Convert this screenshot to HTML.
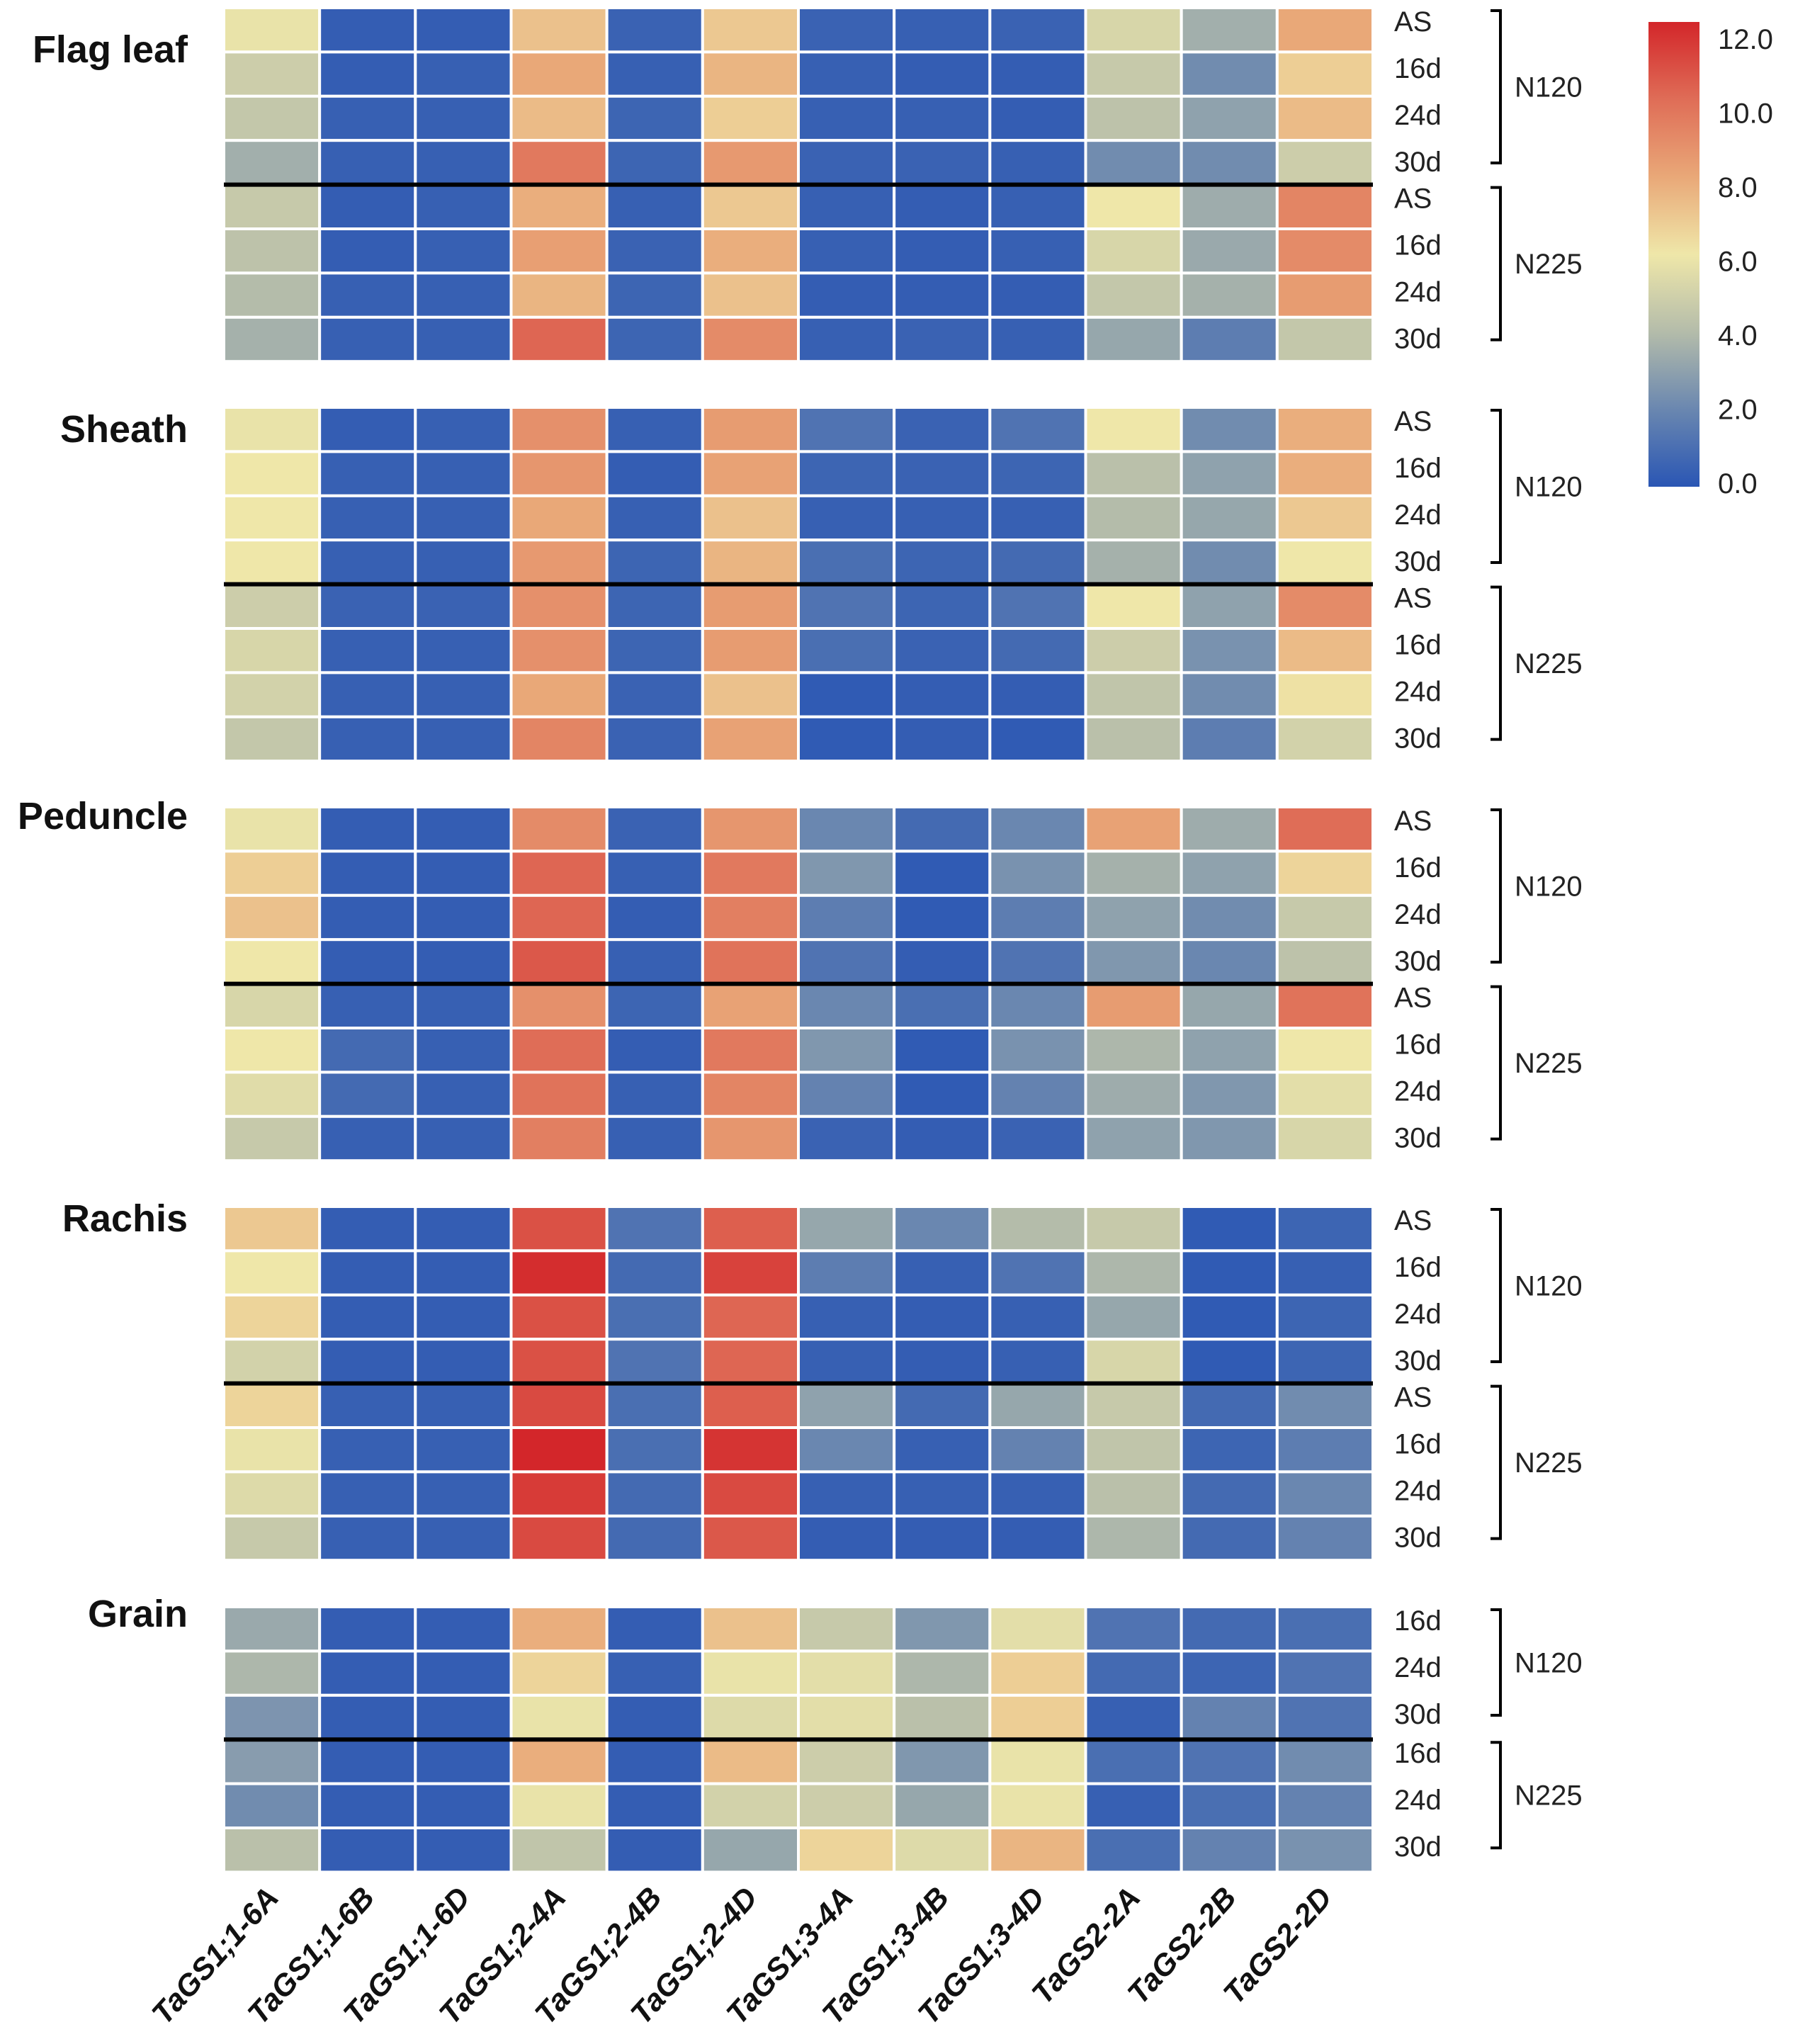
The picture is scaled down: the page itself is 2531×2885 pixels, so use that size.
<!DOCTYPE html>
<html><head><meta charset="utf-8"><style>
html,body{margin:0;padding:0;background:#fff}
svg{display:block}
text{font-family:"Liberation Sans",Arial,sans-serif}
</style></head><body>
<svg id="chart" width="2531" height="2885" viewBox="0 0 2531 2885" xmlns="http://www.w3.org/2000/svg">
<defs>
<linearGradient id="cbar" x1="0" y1="1" x2="0" y2="0">
<stop offset="0" stop-color="#2a56b4"/>
<stop offset="0.1667" stop-color="#6a87b0"/>
<stop offset="0.3333" stop-color="#b4bcaa"/>
<stop offset="0.5" stop-color="#efe7a9"/>
<stop offset="0.6667" stop-color="#e9a878"/>
<stop offset="0.8333" stop-color="#df6d57"/>
<stop offset="1" stop-color="#d3262a"/>
</linearGradient>
</defs>
<g id="cells"></g>
<g id="labels"></g>
<g>
<rect x="2327" y="31" width="72" height="656" fill="url(#cbar)"/>
<g id="cbticks" font-size="40" fill="#222"></g>
</g>
</svg>
<script>
const genes = ["TaGS1;1-6A","TaGS1;1-6B","TaGS1;1-6D","TaGS1;2-4A","TaGS1;2-4B","TaGS1;2-4D","TaGS1;3-4A","TaGS1;3-4B","TaGS1;3-4D","TaGS2-2A","TaGS2-2B","TaGS2-2D"];
const tissues = ["Flag leaf","Sheath","Peduncle","Rachis","Grain"];
const stages4 = ["AS","16d","24d","30d"];
const stages3 = ["16d","24d","30d"];
const nLevels = ["N120","N225"];
const colorTicks = [0,2,4,6,8,10,12];
const flagLeaf = [
[5.8,0.3,0.3,7.2,0.5,7,0.5,0.4,0.5,5.2,3.5,8],
[4.8,0.3,0.4,8,0.4,7.6,0.4,0.3,0.3,4.6,2.2,6.8],
[4.5,0.4,0.4,7.4,0.6,6.8,0.4,0.4,0.3,4.3,3,7.4],
[3.5,0.4,0.4,9.6,0.6,8.5,0.5,0.5,0.4,2.2,2.2,4.8],
[4.6,0.3,0.4,7.8,0.4,7,0.4,0.3,0.4,6,3.4,9.2],
[4.3,0.3,0.4,8.3,0.5,7.8,0.4,0.3,0.4,5.2,3.3,9],
[4,0.4,0.4,7.6,0.6,7.2,0.3,0.3,0.3,4.5,3.6,8.4],
[3.6,0.4,0.4,10.2,0.6,9,0.4,0.5,0.4,3.2,1.6,4.5]];
const sheath = [
[5.8,0.3,0.4,8.8,0.4,8.4,1.2,0.5,1.2,6,2.2,7.8],
[6,0.4,0.4,8.6,0.3,8.2,0.6,0.5,0.6,4.2,3,7.8],
[6,0.4,0.4,8,0.4,7.2,0.4,0.4,0.4,4,3.2,7],
[6,0.4,0.4,8.5,0.6,7.6,1,0.6,0.8,3.6,2.2,6],
[4.8,0.5,0.5,8.8,0.6,8.4,1.2,0.6,1.2,6,3,9],
[5.2,0.4,0.4,8.8,0.6,8.4,1,0.5,0.8,4.8,2.4,7.4],
[5,0.4,0.4,8,0.5,7.2,0.2,0.3,0.3,4.4,2.2,6.2],
[4.5,0.4,0.4,9.2,0.5,8.2,0.2,0.3,0.2,4.2,1.6,5]];
const peduncle = [
[5.8,0.3,0.3,9,0.5,8.6,2,0.8,2,8.2,3.4,10],
[6.8,0.3,0.3,10.2,0.4,9.6,2.6,0.2,2.4,3.6,3,6.6],
[7.2,0.3,0.3,10.2,0.3,9.4,1.6,0.2,1.6,3,2.2,4.6],
[6,0.3,0.3,10.6,0.4,9.8,1.2,0.3,1.2,2.6,2,4.3],
[5.2,0.4,0.4,8.8,0.6,8.2,2,1,2,8.4,3.2,9.8],
[6,0.8,0.4,10,0.3,9.6,2.6,0.2,2.4,3.8,3,6],
[5.5,0.8,0.4,9.8,0.4,9.2,1.8,0.2,1.8,3.4,2.6,5.6],
[4.6,0.4,0.4,9.4,0.4,8.6,0.5,0.3,0.5,3,2.6,5.2]];
const rachis = [
[7,0.3,0.3,10.8,1.2,10.4,3.2,2,4,4.6,0.2,0.6],
[6,0.3,0.3,11.8,0.8,11.2,1.6,0.4,1.2,3.8,0.2,0.4],
[6.6,0.3,0.3,10.8,1,10.2,0.4,0.3,0.4,3.2,0.2,0.6],
[5,0.3,0.3,10.8,1.2,10.2,0.4,0.3,0.4,5.2,0.2,0.6],
[6.6,0.4,0.4,11,1,10.4,3,0.8,3.2,4.6,0.8,2.2],
[5.8,0.4,0.4,12,1,11.6,2,0.4,1.8,4.4,0.6,1.6],
[5.4,0.4,0.4,11.4,0.8,11,0.4,0.4,0.4,4.2,0.8,2],
[4.6,0.4,0.4,11,0.8,10.6,0.3,0.3,0.3,3.8,0.8,1.8]];
const grain = [
[3.3,0.3,0.3,7.8,0.3,7.2,4.6,2.6,5.6,1.2,0.8,1],
[3.8,0.3,0.3,6.6,0.4,5.8,5.6,3.8,6.8,0.8,0.6,1.2],
[2.5,0.3,0.3,5.8,0.3,5.4,5.6,4.2,6.8,0.4,1.8,1.2],
[2.8,0.3,0.3,7.8,0.3,7.4,4.8,2.6,5.8,1,1.2,2.2],
[2.2,0.3,0.3,5.8,0.3,5,4.8,3.2,5.8,0.4,1,1.8],
[4.2,0.3,0.3,4.4,0.3,3.2,6.6,5.4,7.6,1,1.8,2.4]];

const panelData = [flagLeaf, sheath, peduncle, rachis, grain];
const NS = "http://www.w3.org/2000/svg";
const stops = [[0,[42,86,180]],[2,[106,135,176]],[4,[180,188,170]],[6,[239,231,169]],[8,[233,168,120]],[10,[223,109,87]],[12,[211,38,42]]];
function color(v){
  v=Math.max(0,Math.min(12,v));
  for(let i=0;i<stops.length-1;i++){
    const a=stops[i],b=stops[i+1];
    if(v<=b[0]){const t=(v-a[0])/(b[0]-a[0]);
      return "rgb("+a[1].map((c,k)=>Math.round(c+(b[1][k]-c)*t)).join(",")+")";}
  }
  return "rgb(211,38,42)";
}
const x0=316, x1=1938, colW=(x1-x0)/genes.length, rowH=62.4;
const panelTop=[11,575,1139,1703,2268];
const titleY=[88,624,1170,1738,2296];
function xPos(c){return x0+c*colW;}
function yPos(p,r){return panelTop[p]+r*rowH;}
function mk(tag,attrs,parent){const e=document.createElementNS(NS,tag);for(const k in attrs)e.setAttribute(k,attrs[k]);parent.appendChild(e);return e;}
const cells=document.getElementById("cells"), labels=document.getElementById("labels");
panelData.forEach((rows,p)=>{
  const g=mk("g",{},cells);
  
  
  rows.forEach((row,r)=>{
    row.forEach((v,c)=>{
      const rc=mk("rect",{x:xPos(c),y:yPos(p,r),width:colW,height:rowH,fill:color(v),stroke:"#fff","stroke-width":4},g);
      
      
    });
  });
  const half=rows.length/2;
  const st = rows.length===8?stages4:stages3;
  const ln=mk("line",{x1:x0,x2:x1,y1:yPos(p,half),y2:yPos(p,half),stroke:"#000","stroke-width":6},g);
  
  
  const t=mk("text",{x:265,y:titleY[p],"text-anchor":"end","font-size":54,"font-weight":"bold",fill:"#111"},labels);
  t.textContent=tissues[p];
  
  
  rows.forEach((row,r)=>{
    const h=Math.floor(r/half), i=r%half;
    const cy=yPos(p,h*half)+19+i*66;
    const lt=mk("text",{x:1968,y:cy+14,"font-size":40,fill:"#222"},labels);
    lt.textContent=st[i];
    
    
  });
  for(let h=0;h<2;h++){
    const ya=yPos(p,h*half)+4, yb=yPos(p,h*half)+19+(half-1)*66+2, bx=2118;
    const br=mk("path",{d:"M"+(bx-14)+" "+ya+" H"+bx+" V"+yb+" H"+(bx-14),fill:"none",stroke:"#000","stroke-width":4},labels);
    
    
    const nt=mk("text",{x:2138,y:(ya+yb)/2+14,"font-size":40,fill:"#222"},labels);
    nt.textContent=nLevels[h];
    
    
  }
});
genes.forEach((gname,c)=>{
  const cx=xPos(c)+colW/2+12, cy=2680;
  const t=mk("text",{x:cx,y:cy,"text-anchor":"end","font-size":43,"font-style":"italic","font-weight":"bold",fill:"#111",transform:"rotate(-48 "+cx+" "+cy+")"},labels);
  t.textContent=gname;
  
  
});
const cbt=document.getElementById("cbticks");
colorTicks.forEach(v=>{
  const y=682-v/12*627;
  const t=mk("text",{x:2425,y:y+14,"font-size":40},cbt);
  t.textContent=v.toFixed(1);
  
  
});
</script>
</body></html>
